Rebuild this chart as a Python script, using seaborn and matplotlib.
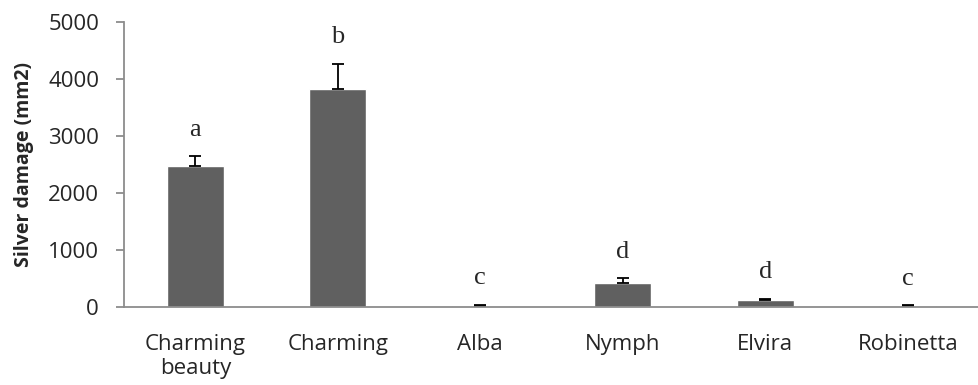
import seaborn as sns
import matplotlib
matplotlib.use("Agg")
from matplotlib import pyplot as plt
import numpy as np

# data
cultivars = ["Charming\nbeauty", "Charming", "Alba", "Nymph", "Elvira", "Robinetta"]
damage = [2480, 3830, 15, 415, 118, 12]
damage_se = [170, 440, 25, 90, 25, 18]
letters = ["a", "b", "c", "d", "d", "c"]

sns.set_style("white")
plt.rcParams['font.family'] = ['Open Sans', 'DejaVu Sans']

fig = plt.figure(figsize=(9.79, 3.85), dpi=100)
ax = fig.add_axes([0.1267, 0.2026, 0.8733, 0.7403])

bar_col = "#606060"
axis_col = "#8c8c8c"

sns.barplot(x=cultivars, y=damage, color=bar_col, saturation=1, width=0.4, ax=ax)

pos = np.arange(len(cultivars))
ax.errorbar(pos, damage, yerr=[np.zeros(len(damage)), damage_se], fmt="none",
            ecolor="black", elinewidth=1.3, capsize=4.2, capthick=1.3)

# significance letters above error bars
for p, m, e, l in zip(pos, damage, damage_se, letters):
    ax.annotate(l, (p, m + e), xytext=(0, 19), textcoords="offset points",
                ha="center", va="center", fontsize=19, family="Liberation Serif")

ax.set_ylim(0, 5000)
ax.set_yticks([0, 1000, 2000, 3000, 4000, 5000])
ax.set_xlim(-0.5, len(cultivars) - 0.5)

for s in ["top", "right"]:
    ax.spines[s].set_visible(False)
for s in ["left", "bottom"]:
    ax.spines[s].set_color(axis_col)
    ax.spines[s].set_linewidth(1.3)

ax.tick_params(axis="y", which="both", left=True, length=6, width=1.3,
               color=axis_col, labelsize=16, pad=12)
ax.tick_params(axis="x", bottom=False, labelsize=16, pad=16)

ax.set_ylabel("Silver damage (mm2)", fontsize=14, fontweight="bold", labelpad=10)

fig.savefig("out.png", dpi=100)
